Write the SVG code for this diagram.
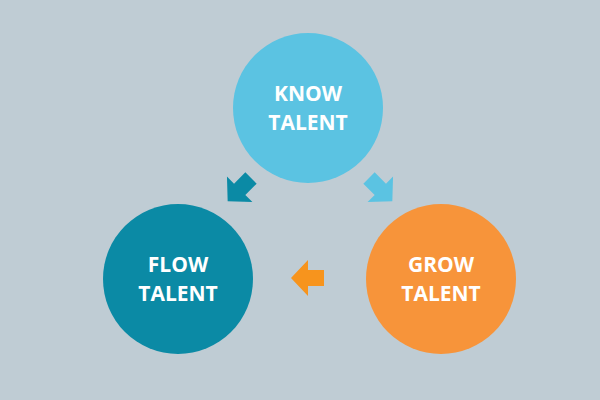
<svg xmlns="http://www.w3.org/2000/svg" width="600" height="400" viewBox="0 0 600 400">
<style>
text{font-family:"Open Sans","Liberation Sans",sans-serif;font-weight:bold;font-size:21px;fill:#fff;text-anchor:middle}
</style>
<defs><polygon id="arr" points="0,-8 16,-8 16,-18 33,0 16,18 16,8 0,8"/></defs>
<rect width="600" height="400" fill="#bfccd4"/>
<g id="know"><circle cx="308" cy="108" r="75" fill="#5bc3e2"/><text x="308" y="101">KNOW</text><text x="308" y="130">TALENT</text></g>
<g id="flow"><circle cx="178" cy="279" r="75" fill="#0b8aa5"/><text x="178" y="272">FLOW</text><text x="178" y="301">TALENT</text></g>
<g id="grow"><circle cx="441" cy="279" r="75" fill="#f7943a"/><text x="441" y="272">GROW</text><text x="441" y="301">TALENT</text></g>
<g id="connectors">
<use href="#arr" fill="#0b8aa5" transform="translate(251,178) rotate(135)"/>
<use href="#arr" fill="#5bc3e2" transform="translate(369,178) rotate(45)"/>
<use href="#arr" fill="#f7941d" transform="translate(324,278) rotate(180)"/>
</g>
</svg>
